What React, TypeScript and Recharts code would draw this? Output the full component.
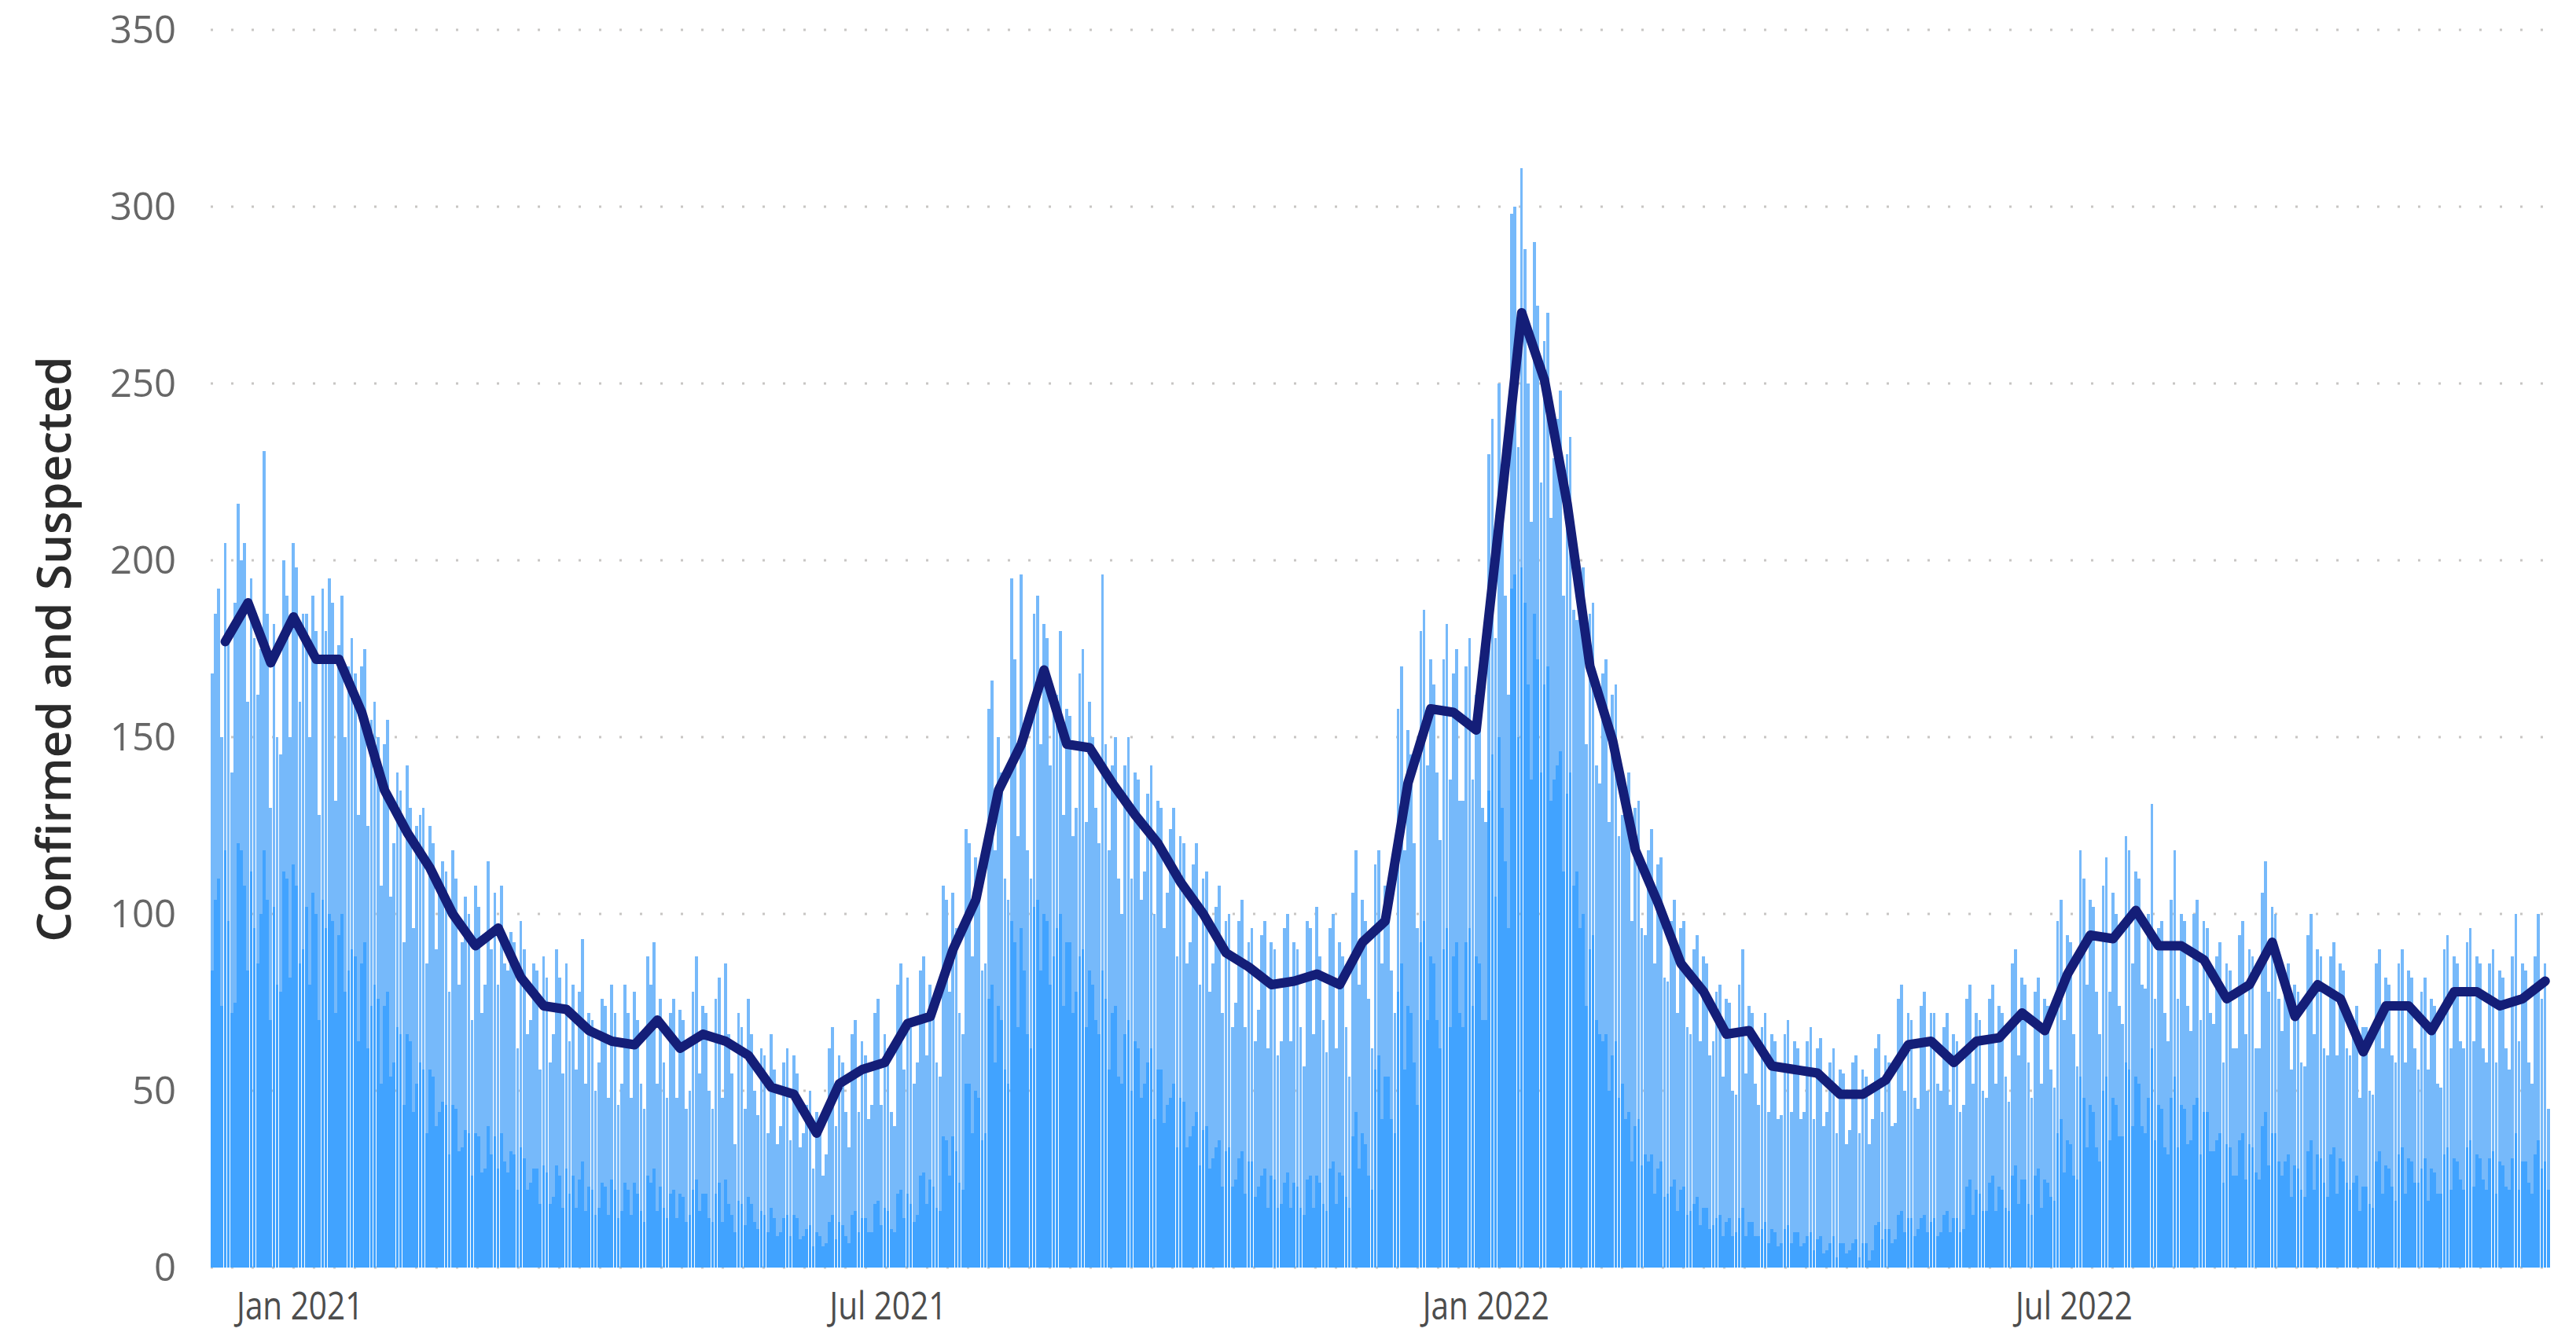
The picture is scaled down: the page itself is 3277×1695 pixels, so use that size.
import React from "react";
import { ComposedChart, Bar, Line, XAxis, YAxis, CartesianGrid } from "recharts";

// ---------- DATA ----------
// First day shown on the axis (day 0)
const startDate = "2020-12-05";

// Daily totals (confirmed + suspected), in 13-week segments
// Segment 0: day 0 + weeks 0-12 (Dec 2020 - early Mar 2021)
const totalSeg0 = [168,
  185, 192, 150, 205, 180, 140, 188,
  216, 200, 205, 160, 195, 178, 162,
  175, 231, 185, 130, 182, 150, 145,
  200, 190, 150, 205, 198, 160, 185,
  185, 150, 190, 180, 128, 192, 180,
  195, 188, 132, 176, 190, 150, 170,
  178, 168, 128, 170, 175, 125, 155,
  160, 150, 108, 148, 155, 105, 120,
  140, 135, 92, 142, 130, 96, 125,
  128, 130, 86, 125, 120, 90, 110,
  115, 112, 78, 118, 110, 80, 92,
  105, 100, 70, 108, 102, 72, 80,
  115, 90, 106, 80, 108, 86, 84];
const confirmedSeg0 = [84,
  104, 110, 74, 118, 98, 72, 75,
  120, 118, 108, 84, 112, 96, 86,
  100, 118, 104, 70, 102, 80, 78,
  112, 110, 82, 114, 108, 86, 90,
  102, 80, 106, 100, 70, 104, 96,
  100, 98, 72, 94, 100, 78, 84,
  90, 88, 64, 86, 92, 62, 74,
  80, 76, 52, 74, 78, 54, 58,
  68, 66, 46, 66, 64, 44, 52,
  58, 56, 38, 56, 54, 40, 44,
  47, 46, 32, 46, 45, 33, 34,
  39, 38, 26, 38, 37, 27, 28,
  40, 32, 37, 28, 38, 30, 27];

// Segment 1: weeks 13-25 (Mar - early Jun 2021)
const totalSeg1 = [
  95, 92, 62, 98, 90, 66, 70,
  86, 84, 56, 88, 82, 58, 66,
  90, 82, 55, 86, 64, 80, 56,
  78, 93, 52, 72, 70, 50, 58,
  76, 74, 48, 80, 72, 46, 52,
  80, 72, 48, 78, 70, 52, 45,
  88, 80, 92, 52, 76, 58, 48,
  72, 76, 48, 73, 70, 45, 50,
  78, 88, 55, 74, 72, 50, 45,
  76, 82, 48, 86, 66, 55, 35,
  72, 68, 45, 76, 66, 50, 43,
  62, 60, 38, 66, 56, 35, 40,
  58, 62, 36, 60, 55, 34, 38];
const confirmedSeg1 = [
  33, 32, 22, 34, 31, 22, 24,
  28, 28, 18, 29, 27, 18, 20,
  29, 26, 17, 28, 21, 26, 17,
  25, 30, 16, 23, 22, 15, 17,
  24, 23, 15, 25, 22, 14, 16,
  24, 22, 15, 24, 21, 16, 13,
  26, 24, 28, 16, 23, 17, 14,
  21, 22, 14, 21, 20, 13, 15,
  22, 25, 16, 21, 21, 14, 13,
  21, 24, 13, 25, 18, 15, 10,
  19, 18, 12, 20, 18, 13, 11,
  16, 15, 10, 17, 14, 9, 10,
  14, 15, 9, 15, 14, 8, 9];

// Segment 2: weeks 26-38 (Jun - Sep 2021)
const totalSeg2 = [
  46, 50, 28, 44, 40, 26, 32,
  62, 68, 40, 60, 58, 44, 34,
  66, 70, 44, 64, 60, 42, 46,
  72, 76, 46, 66, 62, 44, 40,
  80, 86, 56, 82, 70, 52, 58,
  84, 88, 60, 80, 74, 58, 54,
  108, 104, 78, 106, 96, 72, 66,
  124, 120, 88, 116, 110, 84, 86,
  158, 166, 118, 150, 140, 110, 104,
  195, 172, 122, 196, 150, 118, 110,
  185, 190, 148, 182, 178, 142, 160,
  162, 180, 128, 158, 156, 122, 130,
  168, 175, 126, 160, 150, 130, 120];
const confirmedSeg2 = [
  11, 12, 6, 10, 9, 6, 7,
  13, 15, 8, 13, 12, 9, 7,
  15, 16, 10, 14, 14, 10, 10,
  18, 19, 12, 17, 16, 11, 10,
  21, 22, 14, 21, 18, 13, 15,
  26, 27, 18, 25, 23, 17, 16,
  37, 36, 26, 37, 33, 24, 22,
  52, 52, 38, 50, 48, 36, 38,
  76, 80, 58, 74, 70, 56, 52,
  98, 92, 68, 96, 84, 66, 62,
  102, 104, 84, 100, 98, 80, 88,
  96, 100, 74, 92, 92, 72, 78,
  88, 90, 68, 84, 80, 70, 66];

// Segment 3: weeks 39-51 (Sep - Dec 2021)
const totalSeg3 = [
  196, 148, 118, 142, 150, 110, 100,
  142, 150, 110, 140, 138, 104, 112,
  134, 142, 100, 132, 130, 96, 106,
  124, 130, 88, 122, 120, 86, 92,
  114, 120, 80, 110, 112, 78, 86,
  102, 108, 72, 98, 100, 68, 75,
  98, 104, 68, 92, 96, 64, 73,
  94, 98, 62, 92, 90, 60, 64,
  96, 100, 64, 92, 90, 68, 57,
  98, 96, 66, 102, 88, 70, 61,
  96, 100, 62, 92, 88, 68, 54,
  106, 118, 80, 104, 98, 76, 62,
  114, 118, 86, 108, 104, 84, 72];
const confirmedSeg3 = [
  84, 76, 56, 72, 74, 54, 52,
  66, 70, 50, 64, 62, 48, 52,
  58, 62, 42, 56, 56, 41, 46,
  48, 52, 34, 48, 47, 34, 37,
  40, 44, 29, 39, 40, 28, 31,
  34, 36, 23, 33, 34, 23, 25,
  31, 33, 21, 30, 30, 20, 23,
  26, 28, 17, 26, 25, 17, 18,
  24, 27, 17, 24, 23, 17, 15,
  25, 26, 17, 26, 24, 18, 16,
  28, 30, 18, 27, 26, 20, 17,
  37, 44, 28, 38, 35, 26, 22,
  56, 60, 42, 54, 54, 42, 38];

// Segment 4: weeks 52-64 (Dec 2021 - Mar 2022)
const totalSeg4 = [
  158, 170, 118, 152, 145, 120, 96,
  180, 186, 142, 172, 165, 140, 121,
  172, 182, 138, 168, 175, 132, 132,
  170, 178, 138, 162, 160, 130, 126,
  230, 240, 178, 250, 220, 190, 162,
  298, 300, 232, 311, 288, 250, 211,
  290, 272, 222, 262, 270, 212, 229,
  240, 248, 190, 230, 235, 186, 183,
  192, 198, 148, 185, 188, 142, 137,
  168, 172, 126, 162, 165, 122, 128,
  136, 140, 98, 130, 132, 96, 94,
  118, 124, 86, 114, 116, 82, 81,
  98, 104, 72, 96, 98, 68, 66];
const confirmedSeg4 = [
  78, 86, 56, 74, 72, 58, 46,
  92, 98, 70, 88, 86, 70, 62,
  90, 96, 68, 88, 92, 72, 68,
  92, 96, 74, 88, 86, 70, 70,
  135, 145, 105, 150, 130, 115, 96,
  192, 196, 150, 198, 188, 165, 138,
  185, 172, 140, 165, 170, 132, 138,
  142, 146, 112, 134, 140, 108, 112,
  96, 100, 74, 90, 94, 70, 66,
  64, 66, 50, 60, 64, 48, 52,
  42, 44, 30, 40, 42, 29, 32,
  30, 32, 21, 28, 30, 20, 21,
  23, 25, 16, 22, 23, 15, 16];

// Segment 5: weeks 65-77 (Mar - Jun 2022)
const totalSeg5 = [
  90, 94, 64, 88, 86, 60, 64,
  78, 80, 54, 76, 75, 50, 49,
  80, 90, 55, 74, 72, 52, 46,
  68, 72, 44, 66, 64, 42, 43,
  66, 70, 44, 64, 62, 42, 44,
  64, 68, 42, 62, 65, 40, 44,
  58, 62, 38, 56, 55, 35, 39,
  58, 60, 38, 56, 54, 35, 42,
  62, 66, 44, 60, 58, 40, 41,
  76, 80, 50, 72, 70, 48, 45,
  74, 78, 50, 72, 72, 52, 50,
  68, 72, 46, 66, 64, 44, 46,
  76, 80, 52, 72, 70, 50, 48];
const confirmedSeg5 = [
  18, 20, 12, 17, 17, 11, 12,
  14, 15, 9, 13, 14, 9, 10,
  14, 17, 9, 13, 13, 9, 9,
  11, 13, 7, 11, 10, 6, 7,
  11, 12, 7, 10, 10, 6, 7,
  9, 10, 5, 8, 9, 4, 5,
  7, 9, 3, 7, 7, 4, 5,
  7, 8, 3, 7, 7, 2, 5,
  12, 13, 8, 11, 11, 7, 8,
  15, 16, 10, 14, 14, 9, 11,
  14, 15, 10, 13, 14, 9, 10,
  15, 16, 10, 14, 14, 10, 11,
  23, 25, 15, 22, 21, 16, 16];

// Segment 6: weeks 78-90 (Jun - Sep 2022)
const totalSeg6 = [
  76, 80, 52, 74, 72, 54, 47,
  86, 90, 60, 82, 80, 58, 48,
  78, 82, 52, 76, 74, 56, 51,
  98, 104, 70, 94, 92, 66, 57,
  118, 110, 80, 104, 102, 78, 66,
  108, 116, 78, 106, 100, 74, 69,
  122, 118, 86, 112, 110, 80, 79,
  100, 131, 76, 96, 98, 72, 64,
  104, 118, 76, 100, 98, 74, 67,
  100, 104, 70, 98, 96, 72, 69,
  88, 92, 58, 86, 84, 62, 62,
  94, 98, 66, 90, 88, 62, 62,
  106, 115, 78, 102, 100, 76, 67];
const confirmedSeg6 = [
  24, 26, 16, 23, 22, 17, 16,
  26, 29, 18, 25, 25, 18, 15,
  26, 28, 17, 25, 24, 20, 19,
  38, 42, 27, 36, 35, 26, 25,
  54, 48, 34, 46, 44, 34, 30,
  50, 54, 36, 48, 46, 37, 37,
  58, 56, 40, 54, 52, 40, 38,
  48, 62, 36, 46, 45, 34, 32,
  48, 54, 34, 46, 45, 35, 36,
  46, 48, 32, 44, 44, 33, 33,
  36, 38, 24, 35, 34, 26, 26,
  36, 38, 25, 35, 34, 27, 25,
  40, 44, 29, 38, 38, 30, 26];

// Segment 7: weeks 91-102 (Sep - Nov 2022)
const totalSeg7 = [
  82, 86, 56, 80, 78, 58, 57,
  94, 100, 66, 90, 88, 62, 60,
  88, 92, 60, 86, 84, 62, 60,
  70, 74, 48, 68, 68, 50, 49,
  86, 90, 62, 82, 80, 60, 58,
  86, 90, 58, 84, 82, 62, 56,
  78, 82, 56, 76, 74, 52, 51,
  90, 94, 62, 88, 86, 64, 62,
  92, 96, 64, 88, 86, 62, 58,
  86, 90, 58, 84, 82, 62, 56,
  88, 100, 64, 86, 84, 58, 52,
  88, 100, 76, 86, 45];
const confirmedSeg7 = [
  30, 32, 20, 29, 28, 22, 20,
  33, 36, 22, 32, 31, 24, 20,
  32, 34, 21, 31, 30, 24, 22,
  24, 26, 16, 23, 23, 18, 17,
  30, 33, 21, 29, 28, 23, 19,
  32, 34, 21, 31, 30, 24, 24,
  28, 31, 19, 28, 27, 21, 21,
  32, 34, 22, 31, 30, 25, 22,
  34, 36, 23, 32, 31, 25, 22,
  31, 33, 21, 30, 29, 23, 22,
  31, 38, 22, 30, 30, 24, 21,
  32, 36, 28, 30, 22];

// Weekly average line (one point per week, starting at day 4)
const weeklyAverage = [
  177, 188, 171, 184, 172, 172, 157, 135, 123, 113,
  100, 91, 96, 82, 74, 73, 67, 64, 63, 70,
  62, 66, 64, 60, 51, 49, 38, 52, 56, 58,
  69, 71, 90, 104, 135, 148, 169, 148, 147, 137,
  128, 120, 109, 100, 89, 85, 80, 81, 83, 80,
  92, 98, 137, 158, 157, 152, 210, 270, 251, 216,
  170, 149, 118, 103, 86, 78, 66, 67, 57, 56,
  55, 49, 49, 53, 63, 64, 58, 64, 65, 72,
  67, 83, 94, 93, 101, 91, 91, 87, 76, 80,
  92, 71, 80, 76, 61, 74, 74, 67, 78, 78,
  74, 76, 81];
const weeklyFirstDay = 4;

const tickDates = ["2021-01-01", "2021-07-01", "2022-01-01", "2022-07-01"];
const tickLabels = ["Jan 2021", "Jul 2021", "Jan 2022", "Jul 2022"];
const yTicks = [0, 50, 100, 150, 200, 250, 300, 350];
const yTitle = "Confirmed and Suspected";

// ---------- TABLE ----------
const totals = [
  ...totalSeg0, ...totalSeg1, ...totalSeg2, ...totalSeg3,
  ...totalSeg4, ...totalSeg5, ...totalSeg6, ...totalSeg7,
];
const confirmed = [
  ...confirmedSeg0, ...confirmedSeg1, ...confirmedSeg2, ...confirmedSeg3,
  ...confirmedSeg4, ...confirmedSeg5, ...confirmedSeg6, ...confirmedSeg7,
];

const dayMs = 86400000;
const startMs = Date.parse(startDate + "T00:00:00Z");
const data = totals.map((t, i) => {
  const date = new Date(startMs + i * dayMs).toISOString().slice(0, 10);
  const c = Math.min(confirmed[i] ?? 0, t);
  const rel = i - weeklyFirstDay;
  const avg = rel >= 0 && rel % 7 === 0 && rel / 7 < weeklyAverage.length ? weeklyAverage[rel / 7] : null;
  return { date, confirmed: c, suspected: t - c, avg };
});

// ---------- LAYOUT ----------
const W = 3277;
const H = 1695;
const MARGIN = { top: 38, right: 33, bottom: 0, left: 0 };
const Y_AXIS_W = 268;
const PLOT_W = W - MARGIN.left - MARGIN.right - Y_AXIS_W;
const BAR_W = PLOT_W / data.length; // bars fill the whole day band

const FONT = '"Segoe UI", "Open Sans", sans-serif';

const YTitle = () => (
  <text
    x={67}
    y={826}
    transform="rotate(-90 67 826)"
    textAnchor="middle"
    dominantBaseline="central"
    fontFamily={FONT}
    fontSize={60}
    fontWeight={600}
    fill="#2B2B2B"
  >
    {yTitle}
  </text>
);

const XTick = (props: any) => {
  const { x, y, payload } = props;
  const label = tickLabels[tickDates.indexOf(payload.value)] ?? "";
  return (
    <text
      x={x}
      y={y}
      dy="0.71em"
      textAnchor="middle"
      fontFamily={FONT}
      fontSize={50}
      fill="#4D4D4D"
      transform={`translate(${x} 0) scale(0.81 1) translate(${-x} 0)`}
    >
      {label}
    </text>
  );
};

const CrispRect = (props: any) => {
  const { x, y, width, height, fill } = props;
  if (!height || height <= 0) return null;
  const left = Math.round(x);
  const right = Math.round(x + width);
  const top = Math.round(y);
  const bottom = Math.round(y + height);
  if (right <= left || bottom <= top) return null;
  return <rect x={left} y={top} width={right - left} height={bottom - top} fill={fill} shapeRendering="crispEdges" />;
};

export default function App() {
  return (
    <div style={{ position: "absolute", left: 0, top: 0, width: W, height: H, background: "#fff" }}>
      <ComposedChart
        width={W}
        height={H}
        data={data}
        margin={MARGIN}
        barCategoryGap={0}
        barGap={0}
      >
        <CartesianGrid
          vertical={false}
          stroke="#C8C6C4"
          strokeWidth={3}
          strokeDasharray="3 23"
        />
        <XAxis
          dataKey="date"
          ticks={tickDates}
          interval={0}
          axisLine={false}
          tickLine={false}
          height={82}
          tickMargin={25}
          tick={<XTick />}
        />
        <YAxis
          domain={[0, 350]}
          ticks={yTicks}
          interval={0}
          axisLine={false}
          tickLine={false}
          width={Y_AXIS_W}
          tickMargin={38}
          tick={{ fill: "#666666", fontSize: 49, fontFamily: FONT }}
          label={{ content: () => <YTitle /> }}
        />
        <Bar dataKey="confirmed" stackId="a" fill="#41A3FF" barSize={BAR_W} shape={<CrispRect />} isAnimationActive={false} />
        <Bar dataKey="suspected" stackId="a" fill="#76B9FA" barSize={BAR_W} shape={<CrispRect />} isAnimationActive={false} />
        <Line
          dataKey="avg"
          type="linear"
          stroke="#141E78"
          strokeWidth={12}
          strokeLinejoin="round"
          strokeLinecap="round"
          dot={false}
          activeDot={false}
          connectNulls
          isAnimationActive={false}
        />
      </ComposedChart>
    </div>
  );
}
